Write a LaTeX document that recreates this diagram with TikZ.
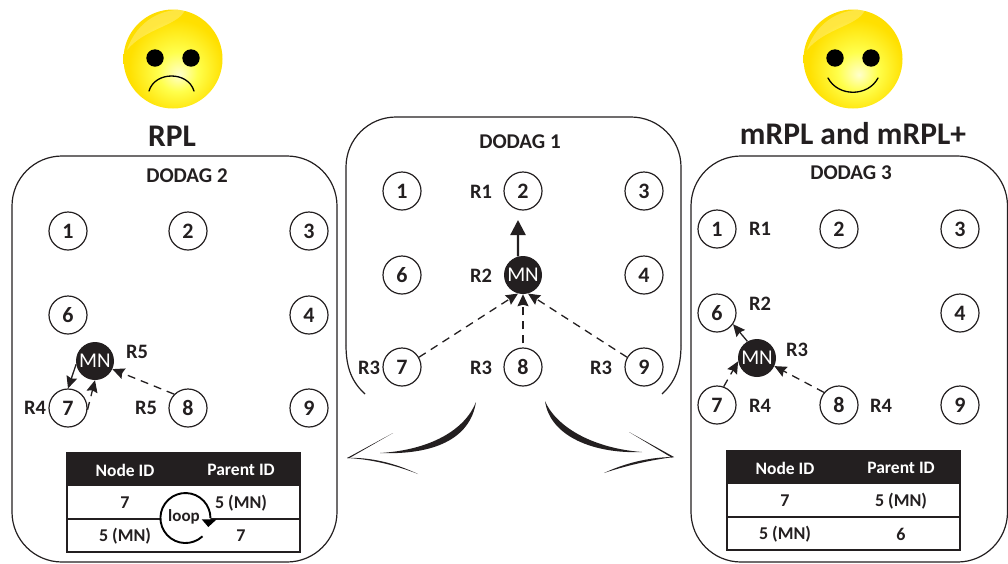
\documentclass[tikz,border=0pt]{standalone}
\usepackage{fontspec}
\setmainfont{Carlito}
\usetikzlibrary{calc,arrows.meta}
\definecolor{inkgray}{HTML}{231F20}
\definecolor{facemid}{HTML}{FFE000}
\definecolor{faceedge}{HTML}{F8D000}
\pgfdeclareradialshading{facegloss}{\pgfpoint{3bp}{-8bp}}{color(0bp)=(yellow!20!white); color(10bp)=(yellow!70!white); color(24bp)=(facemid); color(50bp)=(faceedge)}
\tikzset{
  plain/.style={circle,draw=inkgray,line width=1.2pt,minimum size=38pt,inner sep=0pt,font=\fontsize{22}{22}\selectfont\bfseries,text=inkgray},
  mobile/.style={circle,fill=inkgray,minimum size=38pt,inner sep=0pt,font=\fontsize{21}{21}\selectfont,text=white},
  rank/.style={font=\fontsize{20.5}{20.5}\selectfont\bfseries,text=inkgray},
  cell/.style={font=\fontsize{18}{18}\selectfont\bfseries,text=inkgray},
  headcell/.style={font=\fontsize{17.5}{17.5}\selectfont\bfseries,text=white},
  title/.style={font=\fontsize{21}{21}\selectfont\bfseries,text=inkgray},
  bigtitle/.style={font=\fontsize{31.5}{31.5}\selectfont\bfseries,text=inkgray},
  solidarrow/.style={draw=inkgray,line width=1.3pt,-{Stealth[length=12pt,width=11pt,inset=1.5pt]}},
  dashedarrow/.style={draw=inkgray,line width=1.3pt,dash pattern=on 8pt off 6pt,-{Stealth[length=12pt,width=11pt,inset=1.5pt]}},
  boxline/.style={draw=inkgray,line width=1.2pt},
  wedgeline/.style={fill=inkgray,draw=none}
}
\begin{document}
\begin{tikzpicture}[x=1pt,y=-1pt]
\useasboundingbox (0,0) rectangle (1008,563);

% the three dodag outlines
\draw[boxline,rounded corners=50pt] (12,156) rectangle (337,562);
\draw[boxline,rounded corners=50pt] (691,156) rectangle (1007.5,562);
\draw[boxline,rounded corners=50pt] (346,345) -- (346,117) -- (681,117) -- (681,345);
\draw[boxline] (346,345) .. controls (346,368) and (352,382) .. (365,394);
\draw[boxline] (681,345) .. controls (681,368) and (675,382) .. (662,394);

% faces
\foreach \facex/\facename in {173/sad,853/happy}{
  \shade[shading=facegloss] (\facex,59) circle (49.5);
  \fill[white,opacity=.25] (\facex-46,50) .. controls (\facex-36,20) and (\facex-10,8) .. (\facex+12,10) .. controls (\facex+5,26) and (\facex-28,28) .. (\facex-46,50);
  \fill[black] (\facex-18,58) circle (8.7);
  \fill[black] (\facex+18,58) circle (8.7);
}
\draw[black,line width=1.3pt,line cap=round] (149,91) .. controls (155,71) and (188,71) .. (194,91);
\draw[black,line width=1.3pt,line cap=round] (828,78) .. controls (838,97) and (868,97) .. (878,78);

\node[bigtitle] (rpl) at (172,136) {RPL};
\node[bigtitle] (mrpl) at (853,134) {mRPL and mRPL+};
\node[title] (dodagb) at (187,176) {DODAG 2};
\node[title] (dodaga) at (520,142) {DODAG 1};
\node[title] (dodagc) at (851,173) {DODAG 3};

% dodag 2
\node[plain] (l1) at (68,231) {1};
\node[plain] (l2) at (188,231) {2};
\node[plain] (l3) at (309,231) {3};
\node[plain] (l6) at (68,315) {6};
\node[plain] (l4) at (309,315) {4};
\node[plain] (l7) at (68,408) {7};
\node[plain] (l8) at (188,408) {8};
\node[plain] (l9) at (309,408) {9};
\node[mobile] (lmn) at (95,361) {MN};
\node[rank] at (137,352) {R5};
\node[rank] at (35,408) {R4};
\node[rank] at (146,408) {R5};
\draw[solidarrow] (lmn.190) -- (l7.north);
\draw[dashedarrow] (l7.-5) -- (lmn.south);
\draw[dashedarrow] (l8.north west) -- (lmn.-25);

% dodag 1
\node[plain] (c1) at (402,191) {1};
\node[plain] (c2) at (523,191) {2};
\node[plain] (c3) at (644,191) {3};
\node[plain] (c6) at (402,275) {6};
\node[plain] (c4) at (644,275) {4};
\node[plain] (c7) at (402,367) {7};
\node[plain] (c8) at (523,367) {8};
\node[plain] (c9) at (644,367) {9};
\node[mobile] (cmn) at (523,275) {MN};
\node[rank] at (481,192) {R1};
\node[rank] at (481,276) {R2};
\node[rank] at (369,368) {R3};
\node[rank] at (481,368) {R3};
\node[rank] at (601,368) {R3};
\coordinate (ctip) at (518,220);
\draw[draw=inkgray,line width=2.4pt,-{Triangle[length=15pt,width=15pt]}] (cmn.105) -- (ctip);
\draw[dashedarrow] (c7.30) -- (cmn.-105);
\draw[dashedarrow] (c8.north) ++(0,-4) -- (cmn.south);
\draw[dashedarrow] (c9.150) -- (cmn.-75);

% dodag 3
\node[plain] (r1) at (717,229) {1};
\node[plain] (r2) at (839,229) {2};
\node[plain] (r3) at (960,229) {3};
\node[plain] (r6) at (717,313) {6};
\node[plain] (r4) at (960,313) {4};
\node[plain] (r7) at (717,405) {7};
\node[plain] (r8) at (839,405) {8};
\node[plain] (r9) at (960,405) {9};
\node[mobile] (rmn) at (757,358) {MN};
\node[rank] at (760,229) {R1};
\node[rank] at (760,304) {R2};
\node[rank] at (797,350) {R3};
\node[rank] at (760,406) {R4};
\node[rank] at (881,406) {R4};
\draw[solidarrow] (rmn.120) -- (r6.-35);
\draw[dashedarrow] (r7.70) -- (rmn.-170);
\draw[dashedarrow] (r8.140) -- (rmn.-25);

% tables
\foreach \tabx/\taby/\lastcell in {67/453/7,727/451/6}{
  \fill[inkgray] (\tabx,\taby) rectangle ++(233,33);
  \draw[boxline] (\tabx,\taby) rectangle ++(233,99);
  \draw[boxline] (\tabx,\taby+66) -- ++(233,0);
  \node[headcell] at (\tabx+58,\taby+17) {Node ID};
  \node[headcell] at (\tabx+174,\taby+17) {Parent ID};
  \node[cell] at (\tabx+58,\taby+50) {7};
  \node[cell] at (\tabx+174,\taby+50) {5 (MN)};
  \node[cell] at (\tabx+58,\taby+83) {5 (MN)};
  \node[cell] at (\tabx+174,\taby+83) {\lastcell};
}

% loop
\fill[white] (185.5,518) circle (25);
\draw[black,line width=1.9pt] (202.5,536.3) arc (-47:-360:25 and -25);
\fill[black] (201.7,519.3) -- (216.7,519.3) -- (208.3,527) -- cycle;
\node[font=\fontsize{17}{17}\selectfont\bfseries,text=inkgray] (loop) at (184,517) {loop};

% block arrows
\fill[wedgeline] (476,402) .. controls (465,430) and (430,450) .. (380,453) .. controls (432,455) and (470,440) .. (476,402);
\fill[wedgeline] (393,433) -- (347,458) -- (349.5,458) -- cycle;
\fill[wedgeline] (347,458) .. controls (370,459) and (395,465) .. (418,474) .. controls (395,463) and (370,457) .. (347,458);
\fill[wedgeline] (545,401) .. controls (555,425) and (590,448) .. (642,452) .. controls (595,454) and (550,437) .. (545,401);
\fill[wedgeline] (629,432) -- (674,457) -- (671.5,457.5) -- cycle;
\fill[wedgeline] (674,457) .. controls (650,457) and (625,463) .. (604,473) .. controls (625,466) and (650,460) .. (674,457);
\end{tikzpicture}
\end{document}
